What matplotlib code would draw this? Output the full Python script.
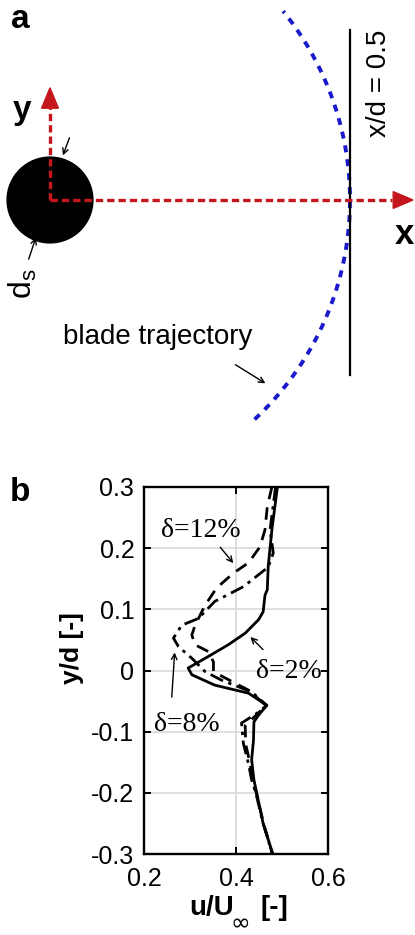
import matplotlib
matplotlib.use('Agg')
import matplotlib.pyplot as plt
import numpy as np
from matplotlib.patches import Circle

plt.rcParams['font.family'] = ['Liberation Sans', 'DejaVu Sans']
plt.rcParams['axes.unicode_minus'] = False
plt.rcParams['mathtext.fontset'] = 'custom'
plt.rcParams['mathtext.rm'] = 'Liberation Sans'
plt.rcParams['mathtext.bf'] = 'Liberation Sans:bold'
plt.rcParams['mathtext.it'] = 'Liberation Sans:italic'

# velocity profiles at x/d = 0.5 (y/d, u/Uinf)
y_d2 = [0.3, 0.23, 0.17, 0.132, 0.123, 0.096, 0.083, 0.061, 0.042, 0.023, 0.004, -0.007,
        -0.024, -0.037, -0.057, -0.073, -0.084, -0.114, -0.146, -0.179, -0.2, -0.25, -0.3]
u_d2 = [0.490, 0.478, 0.470, 0.468, 0.463, 0.459, 0.449, 0.420, 0.383, 0.340, 0.296, 0.304,
        0.354, 0.427, 0.467, 0.449, 0.439, 0.438, 0.434, 0.439, 0.445, 0.459, 0.480]

y_d8 = [0.3, 0.23, 0.192, 0.169, 0.137, 0.113, 0.085, 0.074, 0.053, 0.039, 0.020, -0.002,
        -0.016, -0.035, -0.057, -0.07, -0.086, -0.119, -0.152, -0.179, -0.2, -0.25, -0.3]
u_d8 = [0.486, 0.474, 0.481, 0.470, 0.416, 0.354, 0.318, 0.282, 0.264, 0.275, 0.304, 0.333,
        0.369, 0.434, 0.467, 0.445, 0.412, 0.416, 0.427, 0.434, 0.443, 0.459, 0.479]

y_d12 = [0.3, 0.268, 0.23, 0.202, 0.176, 0.159, 0.135, 0.107, 0.074, 0.058, 0.042, 0.031,
         0.014, -0.002, -0.018, -0.032, -0.057, -0.07, -0.09, -0.12, -0.15, -0.18, -0.2, -0.25, -0.3]
u_d12 = [0.478, 0.468, 0.463, 0.452, 0.427, 0.394, 0.358, 0.333, 0.311, 0.304, 0.311, 0.340,
         0.351, 0.351, 0.391, 0.427, 0.465, 0.448, 0.420, 0.421, 0.430, 0.436, 0.444, 0.460, 0.479]

xticks = [0.2, 0.4, 0.6]
xticklabels = ['0.2', '0.4', '0.6']
yticks = [0.3, 0.2, 0.1, 0.0, -0.1, -0.2, -0.3]
yticklabels = ['0.3', '0.2', '0.1', '0', '-0.1', '-0.2', '-0.3']

# sketch geometry, lengths in rotor diameters
r_traj = 0.5      # blade trajectory radius
x_probe = 0.5     # measurement line
d_s = 0.143       # cylinder diameter

fig = plt.figure(figsize=(4.15, 9.35), dpi=100)

# ---- panel a : setup sketch ----
ax1 = fig.add_axes([0, 1 - 470 / 935, 1, 470 / 935])
ax1.set_xlim(-50 / 600, 365 / 600)
ax1.set_ylim(-270 / 600, 200 / 600)
ax1.set_aspect('equal')
ax1.axis('off')

ax1.add_patch(Circle((0, 0), d_s / 2, color='black', zorder=2))
th = np.linspace(np.radians(-47), np.radians(39), 200)
ax1.plot(r_traj * np.cos(th), r_traj * np.sin(th), color='#1a1acc', lw=2.8,
         dashes=(1.8, 1.8), zorder=2)
ax1.plot([x_probe, x_probe], [-0.292, 0.283], color='black', lw=1.6, zorder=2)

red = '#c4161c'
ax1.plot([0, 0.57], [0, 0], color=red, lw=2.4, dashes=(2.2, 1.2), zorder=3)
ax1.plot([0, 0], [0, 0.155], color=red, lw=2.4, dashes=(2.2, 1.2), zorder=3)
ax1.fill([0.572, 0.605, 0.572], [-0.014, 0, 0.014], color=red, zorder=3)
ax1.fill([-0.014, 0, 0.014], [0.153, 0.187, 0.153], color=red, zorder=3)

ax1.text(-0.05, 0.301, 'a', fontsize=24, fontweight='bold', ha='center', va='center')
ax1.text(-0.047, 0.15, 'y', fontsize=24, fontweight='bold', ha='center', va='center')
ax1.text(0.590, -0.058, 'x', fontsize=25, fontweight='bold', ha='center', va='center')
ax1.text(0.548, 0.195, 'x/d = 0.5', fontsize=20, rotation=90, ha='center', va='center')
ax1.text(-0.045, -0.140, r'$\mathrm{d_s}$', fontsize=23, rotation=90, ha='center', va='center')
ax1.text(0.021, -0.229, 'blade trajectory', fontsize=20, ha='left', va='center')

arw = dict(arrowstyle='->', color='black', lw=1)
ax1.annotate('', xy=(0.02, 0.07), xytext=(0.034, 0.108), arrowprops=arw)
ax1.annotate('', xy=(-0.022, -0.058), xytext=(-0.037, -0.103), arrowprops=arw)
ax1.annotate('', xy=(0.363, -0.308), xytext=(0.305, -0.272), arrowprops=arw)

# ---- panel b : velocity profiles ----
ax2 = fig.add_axes([144 / 415, 1 - 854 / 935, 184 / 415, 367 / 935])
ax2.plot(u_d2, y_d2, color='black', lw=2.0, ls='-')
ax2.plot(u_d8, y_d8, color='black', lw=2.0, dashes=(5, 2, 1.2, 2))
ax2.plot(u_d12, y_d12, color='black', lw=2.0, dashes=(4.5, 3))
ax2.set_xlim(0.2, 0.6)
ax2.set_ylim(-0.3, 0.3)
ax2.set_xticks(xticks)
ax2.set_xticklabels(xticklabels)
ax2.set_yticks(yticks)
ax2.set_yticklabels(yticklabels)
ax2.grid(True, color='#d9d9d9', lw=1.2)
ax2.set_axisbelow(True)
ax2.tick_params(direction='in', top=True, right=True, length=5, width=1.4, labelsize=18)
ax2.tick_params(axis='x', pad=9)
ax2.tick_params(axis='y', pad=7)
for s in ax2.spines.values():
    s.set_linewidth(1.7)

# axis titles
ax2.text(-0.39, 0.56, 'y/d [-]', fontsize=19, fontweight='bold', rotation=90,
         ha='center', va='center', transform=ax2.transAxes)
ax2.text(0.37, -0.147, 'u/U', fontsize=20, fontweight='bold',
         ha='center', va='center', transform=ax2.transAxes)
ax2.text(0.525, -0.188, '∞', fontsize=17, ha='center', va='center',
         family=['DejaVu Sans'], transform=ax2.transAxes)
ax2.text(0.707, -0.147, '[-]', fontsize=20, fontweight='bold',
         ha='center', va='center', transform=ax2.transAxes)

serif = ['Liberation Serif', 'DejaVu Serif']
ax2.text(0.237, 0.229, 'δ=12%', fontsize=20, family=serif, ha='left', va='center')
ax2.text(0.222, -0.088, 'δ=8%', fontsize=20, family=serif, ha='left', va='center')
ax2.text(0.444, -0.002, 'δ=2%', fontsize=20, family=serif, ha='left', va='center')
ax2.annotate('', xy=(0.398, 0.172), xytext=(0.362, 0.205), arrowprops=arw)
ax2.annotate('', xy=(0.267, 0.034), xytext=(0.260, -0.048), arrowprops=arw)
ax2.annotate('', xy=(0.427, 0.058), xytext=(0.463, 0.031), arrowprops=arw)

fig.text(20 / 415, 1 - 492 / 935, 'b', fontsize=24, fontweight='bold', ha='center', va='center')

fig.savefig('out.png', dpi=100)
